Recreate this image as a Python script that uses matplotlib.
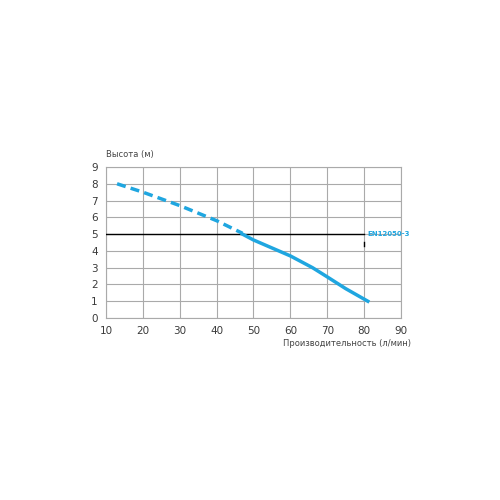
import matplotlib
matplotlib.use("Agg")
import matplotlib.pyplot as plt

# data
dash_x = [13, 20, 30, 40, 47]
dash_y = [8.0, 7.5, 6.7, 5.8, 5.05]
solid_x = [47, 50, 60, 66, 70, 75, 81]
solid_y = [5.0, 4.65, 3.7, 3.0, 2.45, 1.75, 1.0]
ref_level = 5
ref_x = [10, 80]
ref_label = "EN12050-3"
xticks = [10, 20, 30, 40, 50, 60, 70, 80, 90]
yticks = [0, 1, 2, 3, 4, 5, 6, 7, 8, 9]

blue = "#1fa6e0"
plt.rcParams['font.family'] = ['DejaVu Sans']
fig = plt.figure(figsize=(5, 5), dpi=100)
ax = fig.add_axes([0.212, 0.364, 0.59, 0.302])
ax.set_xlim(10, 90)
ax.set_ylim(0, 9)
ax.set_xticks(xticks)
ax.set_yticks(yticks)
ax.grid(True, color="#aaaaaa", linewidth=0.8)
ax.set_axisbelow(True)
for s in ax.spines.values():
    s.set_color("#aaaaaa")
    s.set_linewidth(0.8)
ax.tick_params(length=0, labelsize=7.5, labelcolor="#3a3a3a", pad=6)

ax.plot(ref_x, [ref_level, ref_level], color="black", linewidth=1.0, zorder=3)
ax.plot([80, 80], [4.3, 4.55], color="black", linewidth=1.0, zorder=3)
ax.text(81, ref_level, ref_label, color=blue, fontsize=5, va="center", ha="left",
        fontweight="bold")

ax.plot(dash_x, dash_y, color=blue, linewidth=2.5, linestyle=(0, (2.6, 1.5)),
        solid_capstyle="butt", zorder=4)
ax.plot(solid_x, solid_y, color=blue, linewidth=2.5, zorder=4)

fig.text(0.212, 0.69, "Высота (м)", fontsize=6, color="#444444", ha="left", va="center")
fig.text(0.822, 0.313, "Производительность (л/мин)", fontsize=6, color="#444444",
         ha="right", va="center")

fig.savefig("out.png", dpi=100)
